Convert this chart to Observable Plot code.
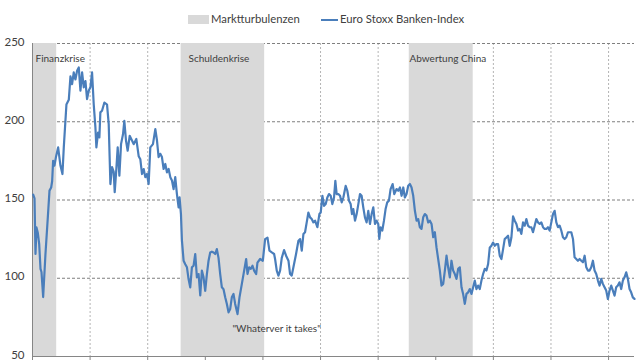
<!DOCTYPE html>
<html>
<head>
<meta charset="utf-8">
<script src="https://cdn.jsdelivr.net/npm/d3@7"></script>
<script src="https://cdn.jsdelivr.net/npm/@observablehq/plot@0.6"></script>
<style>
html, body { margin: 0; padding: 0; overflow: hidden; background: #fff; width: 640px; height: 360px; }
#legend { position: relative; height: 31px; font-family: Lato, "Open Sans", sans-serif; font-size: 11.3px; color: #404040; }
#legend .sw { position: absolute; }
#legend .lb { position: absolute; white-space: nowrap; line-height: 14px; }
</style>
</head>
<body>
<div id="legend"></div>
<div id="chart"></div>
<script>
// ---- data ----
const legendLabels = ["Marktturbulenzen", "Euro Stoxx Banken-Index"];
const yTicks = [50, 100, 150, 200, 250];
const gridY = [100, 150, 200, 250];
const yearTicks = [2009, 2010, 2011, 2012, 2013, 2014, 2015, 2016, 2017, 2018, 2019];
const gridYears = [2010, 2011, 2012, 2013, 2014, 2015, 2016, 2017, 2018, 2019];

const crisisNames = ["Finanzkrise", "Schuldenkrise", "Abwertung China"];
const crisisStart = [2009.0, 2011.58, 2015.54];
const crisisEnd = [2009.42, 2013.03, 2016.65];
const crisisLabelX = [2009.052, 2011.708, 2015.545];
const crisisLabelY = [240, 240.5, 240.5];

const annotationText = ['"Whaterver it takes"'];
const annotationX = [2012.47];
const annotationY = [68];

const time = [
2009.012,2009.035,2009.052,2009.069,2009.092,2009.116,2009.139,2009.156,2009.185,2009.225,
2009.266,2009.295,2009.324,2009.341,2009.358,2009.381,2009.410,2009.445,2009.485,2009.520,
2009.543,2009.589,2009.630,2009.659,2009.687,2009.716,2009.745,2009.774,2009.803,2009.832,
2009.861,2009.890,2009.919,2009.947,2009.976,2010.005,2010.034,2010.063,2010.092,2010.109,
2010.138,2010.161,2010.178,2010.207,2010.248,2010.294,2010.323,2010.352,2010.381,2010.410,
2010.427,2010.456,2010.479,2010.508,2010.537,2010.571,2010.594,2010.623,2010.652,2010.687,
2010.727,2010.756,2010.802,2010.843,2010.872,2010.901,2010.930,2010.958,2010.987,2011.016,
2011.045,2011.091,2011.132,
2011.161,2011.189,2011.218,2011.247,2011.276,2011.305,2011.334,2011.363,2011.392,2011.421,
2011.449,2011.478,2011.507,2011.536,2011.553,2011.577,2011.594,2011.623,2011.652,2011.681,
2011.709,2011.738,2011.767,2011.796,2011.825,2011.854,2011.883,2011.912,2011.940,2011.969,
2011.998,2012.027,2012.056,2012.085,2012.114,2012.143,2012.172,2012.200,2012.229,2012.258,
2012.287,2012.316,2012.345,2012.374,2012.403,2012.432,2012.460,2012.489,2012.518,2012.559,
2012.593,2012.634,2012.674,2012.709,2012.732,2012.761,2012.790,2012.819,2012.847,2012.882,
2012.905,2012.951,2012.998,2013.038,2013.079,2013.113,2013.154,2013.194,2013.211,
2013.240,2013.269,2013.298,2013.327,2013.367,2013.402,2013.443,2013.471,2013.500,2013.529,
2013.575,2013.616,2013.645,2013.674,2013.703,2013.731,2013.760,2013.789,2013.818,2013.847,
2013.876,2013.905,2013.945,2013.980,2014.003,2014.032,2014.061,2014.090,2014.118,2014.147,
2014.176,2014.205,2014.234,2014.257,2014.280,2014.309,2014.338,2014.367,2014.396,2014.436,
2014.465,2014.494,2014.523,2014.546,2014.569,2014.598,2014.627,2014.656,2014.685,2014.713,
2014.742,2014.771,2014.800,2014.829,2014.858,2014.887,2014.916,2014.945,2014.973,2015.002,
2015.020,2015.043,2015.072,2015.101,2015.129,2015.158,2015.187,2015.216,2015.251,2015.280,
2015.320,2015.349,2015.378,2015.407,2015.436,2015.464,2015.493,2015.522,2015.551,2015.580,
2015.609,2015.638,2015.667,2015.696,2015.724,2015.753,2015.782,2015.811,2015.840,2015.869,
2015.898,2015.927,2015.956,2015.984,2016.013,2016.042,2016.071,2016.100,2016.129,2016.158,
2016.187,2016.215,2016.244,2016.273,2016.302,2016.331,2016.360,2016.389,2016.418,2016.447,
2016.475,2016.504,2016.533,2016.562,2016.591,2016.620,2016.649,2016.678,2016.706,2016.735,
2016.764,2016.793,2016.822,2016.851,2016.880,2016.909,2016.938,2016.966,2016.995,2017.024,
2017.053,2017.082,2017.111,2017.140,2017.169,2017.197,2017.226,2017.255,2017.284,2017.313,
2017.342,2017.371,
2017.400,2017.429,2017.457,2017.486,2017.515,2017.544,2017.573,2017.602,2017.631,2017.660,
2017.688,2017.717,2017.746,2017.775,2017.804,2017.833,2017.862,2017.891,2017.920,2017.948,
2017.977,2018.006,2018.035,2018.064,2018.093,2018.122,2018.151,2018.179,2018.208,2018.237,
2018.266,2018.295,2018.324,2018.353,2018.382,2018.410,2018.439,2018.468,2018.497,2018.526,
2018.555,2018.584,2018.613,2018.642,2018.670,2018.699,2018.728,2018.757,2018.786,2018.815,
2018.844,2018.873,2018.901,2018.930,2018.959,2018.988,2019.017,2019.046,2019.075,2019.104,
2019.132,2019.161,2019.190,2019.219,2019.248,2019.277,2019.306,2019.335,2019.364,2019.392,
2019.421,2019.450
];

const bankIndex = [
153.4,151,115.5,132.5,129,122,106,104,88,115.5,
139,156,158,162,175,172,178,183.6,172,166.6,
183.6,211,214,229,224,231.5,227,232.6,234.7,219.8,
231.5,222,226,214.5,219.8,222,231.5,211,196.4,183.6,
193,190,206,207,212.3,211,198.5,160.2,171,168,
155,170,183.6,165.5,185.7,192,200.6,188,181.5,191,
188,185.7,189,178,176,166.6,169.8,164.6,166.6,160.2,
183.6,185.7,195.3,
188,177.4,179.5,177.4,169.8,173,167.7,169.8,164.6,162.5,
157,164.6,153.8,145.3,151.7,141,124,111.2,109,107,
99.5,94.2,107,108,115.5,100.6,102.7,89,104.9,100.6,
92,102.7,111.2,116.5,117,116.5,115.5,118.6,113,102.7,
94.2,93,87.8,83.6,78.2,80.4,87.8,90,83.6,77.1,
87.8,96.4,104.9,112.3,102.7,107,106,108,104.9,102.7,
110,112.3,111.2,125,126,117.6,116.5,115.5,112.3,
104.9,101.7,104.9,113,118,114.4,111.2,102.7,101.7,107,
115.5,124,125,117.6,128.3,129.4,135.7,142,138.9,137.8,
135.7,136.8,132.6,141,142,152.7,146.3,147.4,151.6,153.8,
152.7,147.4,151.6,162.3,153.8,153.8,152.7,148.5,151.6,159,
155.9,149.5,147.4,141,144.2,136.8,141,147.4,153.8,152.7,
145.3,138.9,135.7,143.1,134.7,141,145.3,134.7,136.8,134.7,
125.1,132.6,130.5,136.8,144.2,148.5,149.5,157,160.2,153.8,
157,155.9,158,152.7,158,151.6,153.8,159.1,160.2,158,
152.7,143.1,136.8,137.8,132.6,131.5,138.9,141,140,135.7,
136.8,134.7,126.2,129.4,119.7,112.3,104.9,95.3,96.4,104.9,
114.4,107,100.6,111.2,104.9,102.7,99.6,106,107,94.2,
90,83.6,90,91,93.1,90,94.2,98.5,93.1,95.3,
93.1,98.5,102.7,106,104.9,109.1,119.7,120.7,122.8,120.7,
121.8,121.8,114.4,112.3,118.6,125,126.1,127.2,120.7,126,
139.5,136.8,
134.7,130.5,131.5,128.3,135.7,133.6,137.8,133.6,132.6,132.6,
129.4,133.6,137.8,135.7,134.7,135.7,132.6,131.5,131.5,132.6,
130.5,135.7,141,143.1,135.7,132.6,133.6,130.5,126.2,125.1,
126.2,129.4,129.4,129.4,125.1,113.4,112.3,111.2,112.3,111.2,
110.2,114.4,107,104.9,104.9,107,111.2,104.9,102.7,98.5,
95.3,99.6,96.4,94.2,92.1,86.8,92.1,95.3,92.1,88.9,
94.2,95.3,97.4,93.1,98.5,100.6,103.8,99.6,93.1,91,
87.8,86.8
];

// ---- colours ----
const lineColor = "#4a7ebb";
const shadeColor = "#d9d9d9";
const textColor = "#404040";

// ---- legend ----
const legend = document.getElementById("legend");
legend.innerHTML = `
  <div class="sw" style="left:188px;top:15px;width:21px;height:9px;background:${shadeColor}"></div>
  <div class="lb" style="left:211px;top:12px">${legendLabels[0]}</div>
  <div class="sw" style="left:321px;top:18.5px;width:17px;height:2px;background:${lineColor}"></div>
  <div class="lb" style="left:340px;top:12px">${legendLabels[1]}</div>
`;

// ---- tables ----
const series = time.map((t, i) => ({t, v: bankIndex[i]}));
const crises = crisisNames.map((name, i) => ({name, x1: crisisStart[i], x2: crisisEnd[i], lx: crisisLabelX[i], ly: crisisLabelY[i]}));
const notes = annotationText.map((text, i) => ({text, x: annotationX[i], y: annotationY[i]}));

const chart = Plot.plot({
  width: 640,
  height: 340,
  marginTop: 12,
  marginBottom: 15,
  marginLeft: 32,
  marginRight: 6,
  style: {fontFamily: "Lato, 'Open Sans', sans-serif", fontSize: "12px", background: "#fff", overflow: "visible"},
  x: {type: "linear", domain: [2009, 2019.45]},
  y: {domain: [50, 250]},
  marks: [
    Plot.ruleX(gridYears, {stroke: "#b4b4b4", strokeDasharray: "2,2", strokeWidth: 1}),
    Plot.ruleY(gridY, {stroke: "#7f7f7f", strokeDasharray: "3,2", strokeWidth: 1}),
    Plot.rect(crises, {x1: "x1", x2: "x2", y1: 50, y2: 250, fill: shadeColor}),
    Plot.ruleX([2009], {stroke: "#868686", strokeWidth: 1}),
    Plot.ruleY([50], {stroke: "#868686", strokeWidth: 1}),
    Plot.line(series, {x: "t", y: "v", stroke: lineColor, strokeWidth: 2.2, strokeLinejoin: "round", curve: "linear"}),
    Plot.text(crises, {x: "lx", y: "ly", text: "name", textAnchor: "start", fill: textColor, fontSize: 10}),
    Plot.text(notes, {x: "x", y: "y", text: "text", textAnchor: "start", fill: textColor, fontSize: 10}),
    Plot.axisY({ticks: yTicks, tickSize: 0, tickPadding: 8, dy: -1.5, label: null, color: textColor, fontSize: 11.5}),
    Plot.axisX({ticks: yearTicks, tickFormat: () => "", tickSize: 5, stroke: "#868686", label: null})
  ]
});
document.getElementById("chart").appendChild(chart);
</script>
</body>
</html>
